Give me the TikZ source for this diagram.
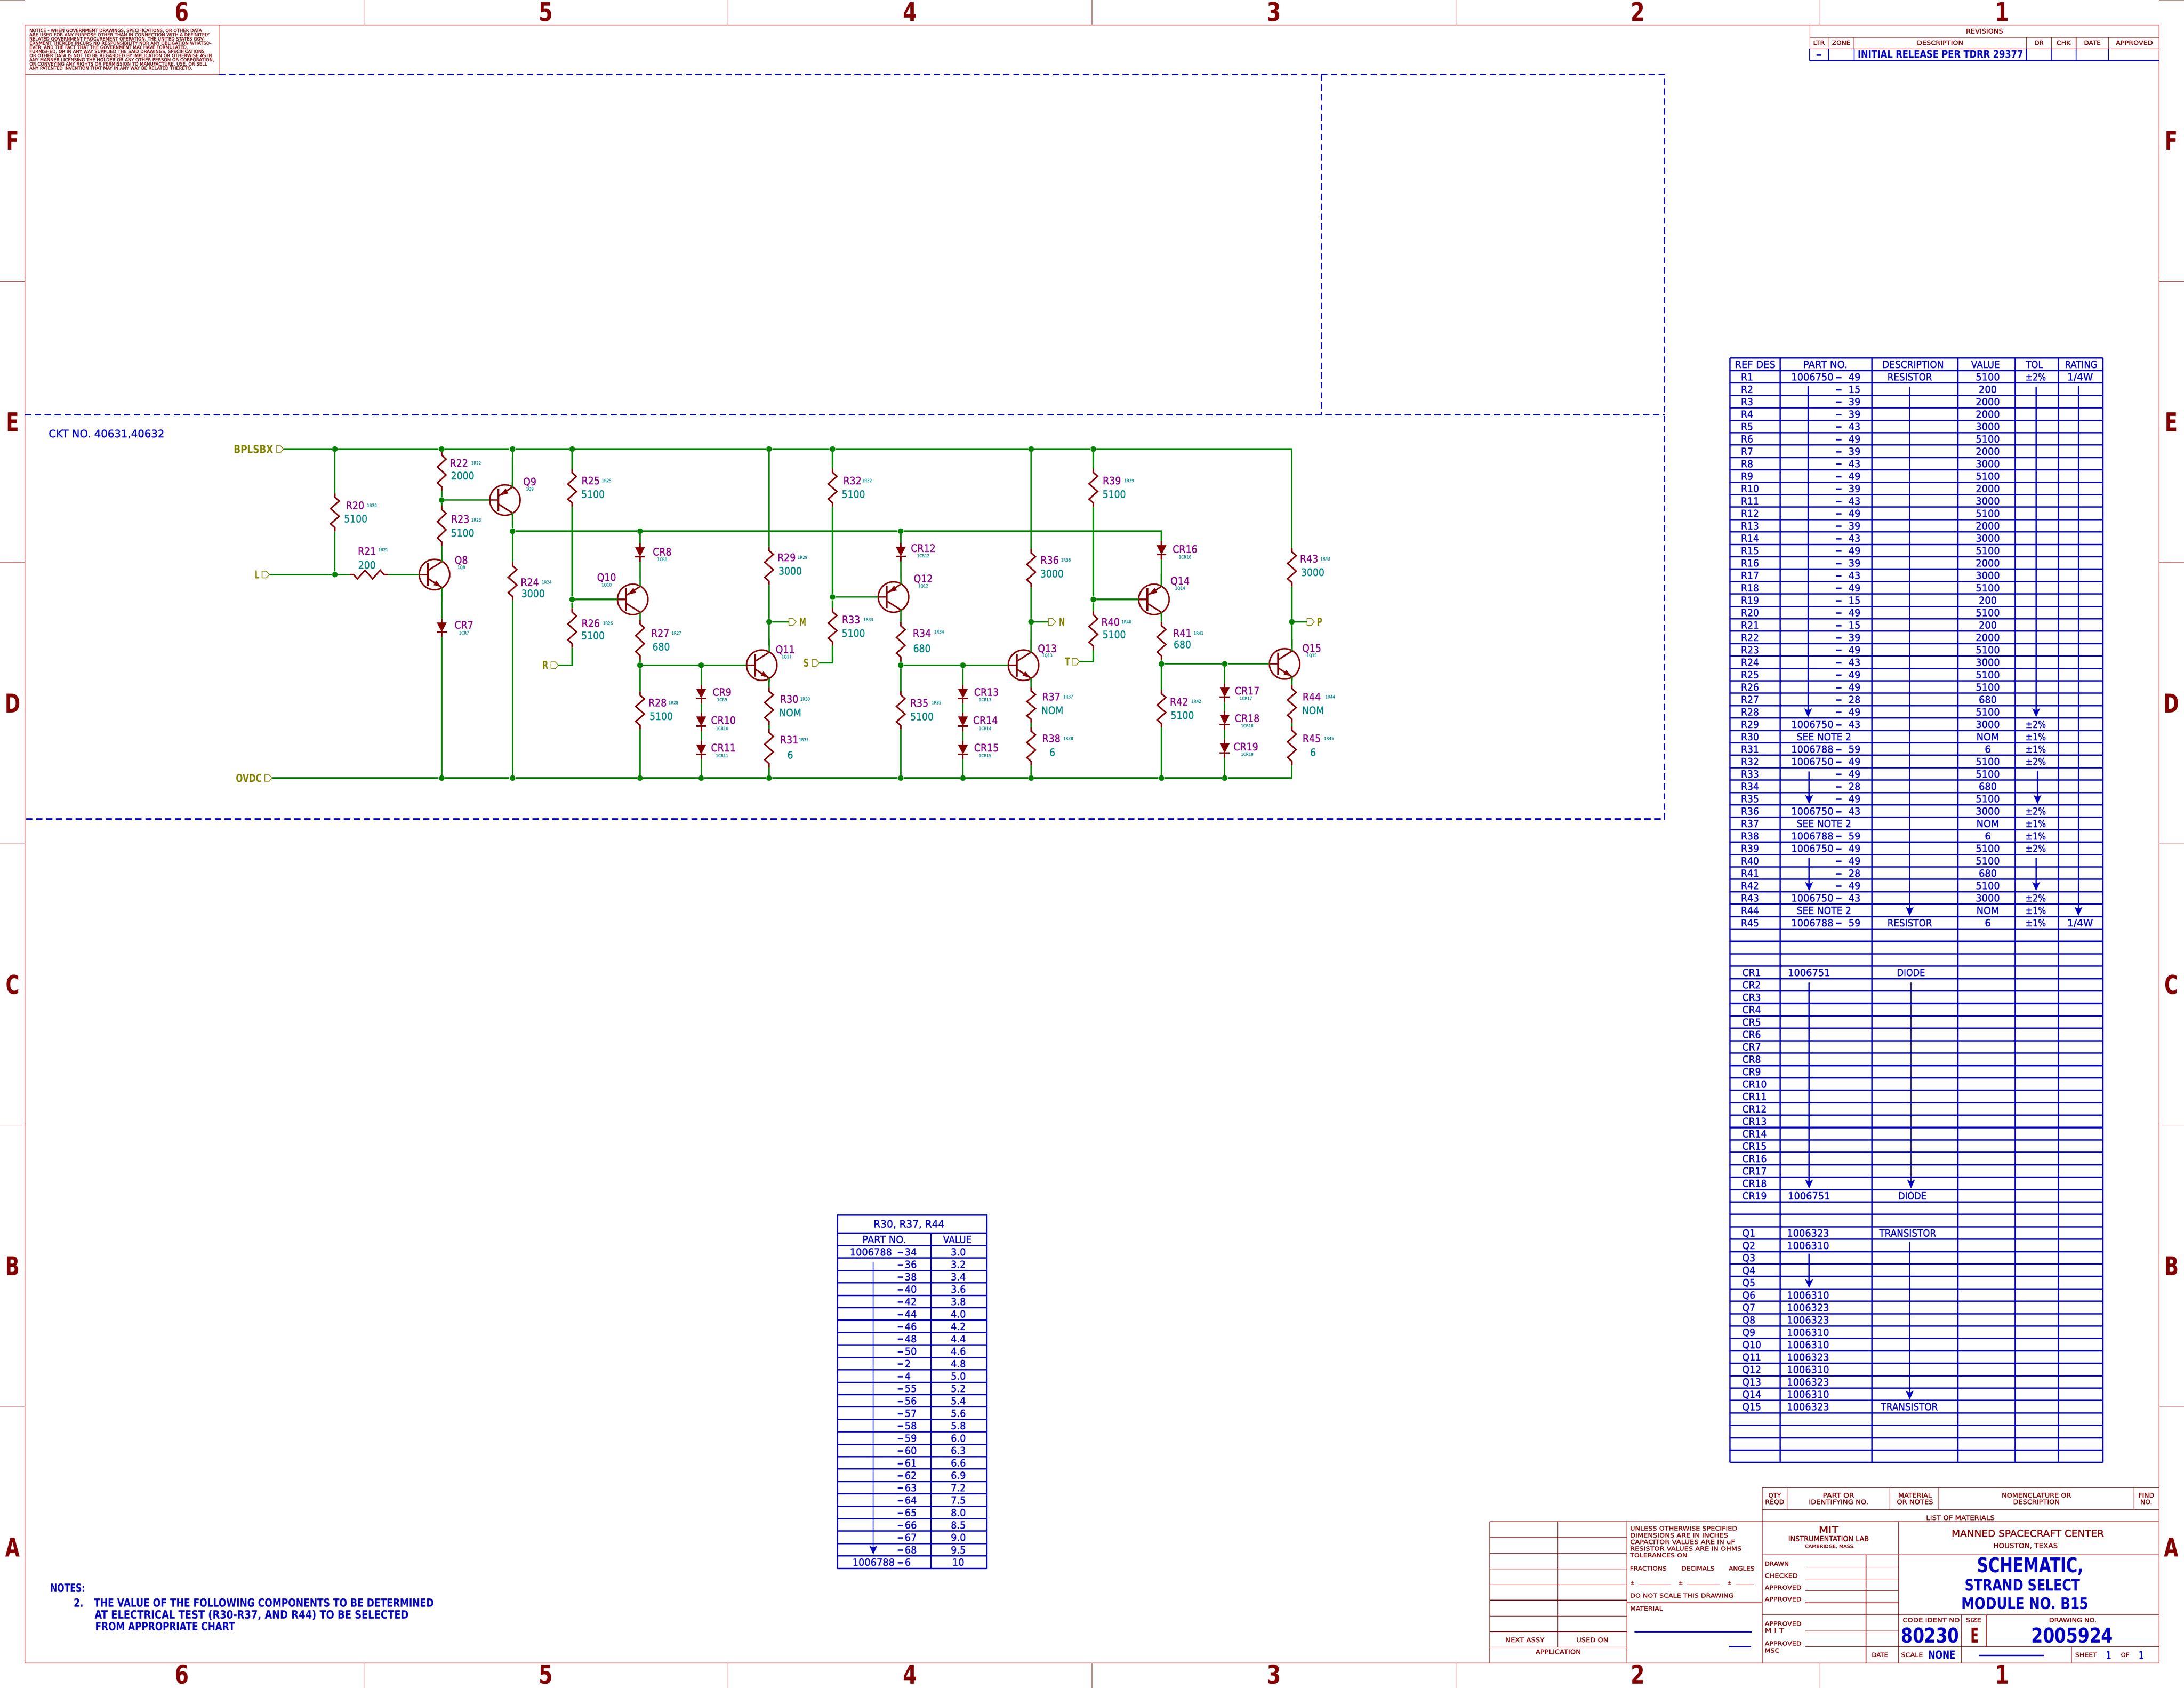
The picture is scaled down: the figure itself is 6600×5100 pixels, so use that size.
\documentclass[tikz,border=0pt]{standalone}
\usepackage{graphicx}
\usepackage{fontspec}
\setmainfont{DejaVu Sans}[UprightFeatures={FakeBold=1.3},BoldFont={DejaVu Sans Bold}]
\definecolor{wg}{RGB}{0,132,0}
\definecolor{mr}{RGB}{132,0,0}
\definecolor{pu}{RGB}{132,0,132}
\definecolor{te}{RGB}{0,132,132}
\definecolor{ol}{RGB}{132,132,0}
\definecolor{bl}{RGB}{0,0,194}
\definecolor{fr}{RGB}{190,115,115}
\tikzset{
 wire/.style={draw=wg,line width=1.1pt},
 comp/.style={draw=mr,line width=1.1pt},
 junc/.style={circle,fill=wg,inner sep=0pt,minimum size=4.25pt},
 txt/.style={inner sep=0pt,outer sep=0pt},
 gridb/.style={draw=bl,line width=1pt},
 arrb/.style={draw=bl,line width=.8pt},
 dsh/.style={draw=bl,line width=1.1pt,dash pattern=on 4.75pt off 2.75pt},
 frm/.style={draw=fr,line width=.65pt},
 tick/.style={draw=fr,line width=.4pt},
 ml/.style={draw=mr,line width=.4pt},
 flg/.style={draw=ol,line width=.5pt},
}
\newsavebox\tbx
\newcounter{tn}
\newcommand\TTx[7]{\stepcounter{tn}%
 \pgfmathsetmacro\fsz{#5*0.343}%
 \pgfmathsetmacro\yb{#3+#5/2}%
 \node[txt,anchor=#1,text=#4,font=\fontsize{\fsz pt}{\fsz pt}\selectfont] (t\arabic{tn}) at (#2,\yb) {\scalebox{#6}[1]{#7}};}
\newcommand\Tx[7][base]{\TTx{#1}{#2}{#3}{#4}{#5}{#6}{#7}}
\newcommand\Wx[7][base]{\stepcounter{tn}%
 \pgfmathsetmacro\fsz{#5*0.343}%
 \pgfmathsetmacro\yb{#3+#5/2}%
 \node[txt,anchor=#1,text=#4,font=\fontsize{\fsz pt}{\fsz pt}\selectfont] (t\arabic{tn}) at (#2,\yb) {\sbox\tbx{#7}\pgfmathsetmacro\xsc{#6*0.25/\the\wd\tbx}\scalebox{\xsc}[1]{\usebox\tbx}};}
\newcommand\RL[3]{\Tx{#1}{#2}{pu}{23}{.89}{#3}}
\newcommand\SL[3]{\Tx{#1}{#2}{te}{10}{.83}{#3}}
\newcommand\VL[3]{\Tx{#1}{#2}{te}{23}{.88}{#3}}
\newcommand\Jn[3]{\node[junc] (#1) at (#2,#3) {};}
\newcommand\Rv[4]{\pgfmathsetmacro\hh{#4-#3}%
 \coordinate (#1a) at (#2,#3); \coordinate (#1b) at (#2,#4);
 \draw[comp] (#1a) -- ++(0,0.1*\hh) -- ++(13,0.1*\hh) -- ++(-26,0.2*\hh) -- ++(26,0.2*\hh) -- ++(-26,0.2*\hh) -- ++(13,0.1*\hh) -- (#1b);}
\newcommand\Rh[4]{\pgfmathsetmacro\hh{#3-#2}%
 \coordinate (#1a) at (#2,#4); \coordinate (#1b) at (#3,#4);
 \draw[comp] (#1a) -- ++(0.1*\hh,0) -- ++(0.1*\hh,13) -- ++(0.2*\hh,-26) -- ++(0.2*\hh,26) -- ++(0.2*\hh,-26) -- ++(0.1*\hh,13) -- (#1b);}
\newcommand\Dd[3]{\coordinate (#1a) at (#2,#3); \coordinate (#1b) at (#2,#3+55);
 \draw[comp] (#1a) -- (#2,#3+12);
 \fill[mr] (#2-15,#3+11) -- (#2+15,#3+11) -- (#2,#3+40) -- cycle;
 \draw[comp] (#2-15,#3+40) -- (#2+15,#3+40);
 \draw[comp] (#2,#3+40) -- (#1b);}
\newcommand\Qb[3]{\coordinate (#1b) at (#2-46,#3);
 \coordinate (#1t) at (#2+22.5,#3-39); \coordinate (#1u) at (#2+22.5,#3+39);
 \draw[comp] (#2,#3) circle[radius=46];
 \draw[comp] (#1b) -- (#2-20,#3);
 \draw[draw=mr,line width=1.4pt] (#2-20,#3-34) -- (#2-20,#3+34);
 \draw[comp] (#2-20,#3-12) -- (#1t);
 \draw[comp] (#2-20,#3+12) -- (#1u);}
\newcommand\Qn[3]{\Qb{#1}{#2}{#3}\fill[mr] (#2+20,#3+37) -- (#2-3,#3+32) -- (#2+5,#3+18) -- cycle;}
\newcommand\Qp[3]{\Qb{#1}{#2}{#3}\fill[mr] (#2-15,#3-14) -- (#2+10,#3-20) -- (#2+2,#3-35) -- cycle;}
\newcommand\Fg[3]{\coordinate (#1l) at (#2,#3); \coordinate (#1r) at (#2+22,#3);
 \draw[flg] (#1l) -- (#2,#3-10) -- (#2+13,#3-10) -- (#1r) -- (#2+13,#3+10) -- (#2,#3+10) -- cycle;}
\newcommand\Ar[3]{\draw[arrb] (#1,#2) -- (#1,#3-20);
 \fill[bl] (#1-12,#3-27) .. controls (#1,#3-20) .. (#1+12,#3-27) -- (#1,#3) -- cycle;}
\begin{document}
\begin{tikzpicture}[x=0.25pt,y=-0.25pt]
\useasboundingbox (0,0) rectangle (6600,5100);
% ---------- frame
\draw[frm] (75,75) rectangle (6525,5025);
\foreach \v in {1100,2200,3300,4400,5500}{\draw[tick] (\v,0) -- (\v,75); \draw[tick] (\v,5025) -- (\v,5100);}
\foreach \v in {850,1700,2550,3400,4250}{\draw[tick] (0,\v) -- (75,\v); \draw[tick] (6525,\v) -- (6600,\v);}
\draw[tick] (0,1) -- (75,1); \draw[tick] (6525,1) -- (6600,1);
\foreach \n/\v in {6/550,5/1650,4/2750,3/3850,2/4950,1/6050}{
 \Tx{\v}{36}{mr}{57}{.78}{\bfseries \n}
 \Tx{\v}{5060}{mr}{57}{.78}{\bfseries \n}}
\foreach \n/\v in {F/425,E/1275,D/2125,C/2975,B/3825,A/4675}{
 \Tx{38}{\v}{mr}{57}{.72}{\bfseries \n}
 \Tx{6562}{\v}{mr}{57}{.72}{\bfseries \n}}
% ---------- dashed zones
\draw[dsh] (662,225) -- (5030,225) -- (5030,2475) -- (75,2475);
\draw[dsh] (75,1253) -- (5030,1253);
\draw[dsh] (3994,225) -- (3994,1253);
% ---------- notice
\draw[frm] (75,225) -- (662,225);
\draw[ml] (662,75) -- (662,225);
\foreach \s/\w/\y in {NOTICE - WHEN GOVERNMENT DRAWINGS{,} SPECIFICATIONS{,} OR OTHER DATA/521/92,
 ARE USED FOR ANY PURPOSE OTHER THAN IN CONNECTION WITH A DEFINITELY/544/104.7,
 RELATED GOVERNMENT PROCUREMENT OPERATION{,} THE UNITED STATES GOV-/530/117.3,
 ERNMENT THEREBY INCURS NO RESPONSIBILITY NOR ANY OBLIGATION WHATSO-/550/130,
 EVER; AND THE FACT THAT THE GOVERNMENT MAY HAVE FORMULATED{,}/479/142.7,
 FURNISHED{,} OR IN ANY WAY SUPPLIED THE SAID DRAWINGS{,} SPECIFICATIONS/529/155,
 OR OTHER DATA IS NOT TO BE REGARDED BY IMPLICATION OR OTHERWISE AS IN/552/167.7,
 ANY MANNER LICENSING THE HOLDER OR ANY OTHER PERSON OR CORPORATION{,}/558/180.3,
 OR CONVEYING ANY RIGHTS OR PERMISSION TO MANUFACTURE{,} USE{,} OR SELL/537/193,
 ANY PATENTED INVENTION THAT MAY IN ANY WAY BE RELATED THERETO./492/205.7}{
 \Wx[base west]{89}{\y}{mr}{10}{\w}{\s}}
% ---------- revisions
\draw[ml] (5469,75) -- (5469,183) (5469,113) -- (6525,113) (5469,147) -- (6525,147);
\foreach \v in {5525,5603,6124,6199,6274,6372}{\draw[ml] (\v,113) -- (\v,147);}
\foreach \v in {5469,5525,5603,6124,6199,6274,6372}{\draw[draw=bl,line width=.7pt] (\v,147) -- (\v,183);}
\draw[gridb] (5469,183) -- (6525,183);
\Wx{5997}{94}{mr}{14}{112}{REVISIONS}
\Wx{5497}{129}{mr}{13.5}{35}{LTR}
\Wx{5564}{129}{mr}{13.5}{56}{ZONE}
\Wx{5863}{129}{mr}{13.5}{140}{DESCRIPTION}
\Wx{6162}{129}{mr}{13.5}{27}{DR}
\Wx{6236}{129}{mr}{13.5}{43}{CHK}
\Wx{6323}{129}{mr}{13.5}{50}{DATE}
\Wx{6450}{129}{mr}{13.5}{112}{APPROVED}
\Wx{5497}{165}{bl}{23}{20}{\bfseries -}
\Wx{5864}{164}{bl}{23}{500}{\bfseries INITIAL RELEASE PER TDRR 29377}
% ---------- circuit: junctions
\foreach \n/\x in {jT1/1012,jT2/1335,jT3/1549,jT4/1729,jT5/2324,jT6/2516,jT7/3116,jT8/3304}{\Jn{\n}{\x}{1357}}
\foreach \n/\x in {jB1/1335,jB2/1549,jB3/1934,jB4/2119,jB5/2324,jB6/2722,jB7/2910,jB8/3116,jB9/3510,jB10/3701}{\Jn{\n}{\x}{2351}}
\Jn{jL}{1012}{1736}
\Jn{j22}{1335}{1511}
\Jn{j24}{1549}{1605}
\Jn{j8}{1934}{1605}
\Jn{j12}{2722}{1605}
\Jn{j26}{1729}{1811}
\Jn{j28}{1934}{2010}
\Jn{j9}{2119}{2010}
\Jn{jM}{2324}{1879}
\Jn{j33}{2516}{1804}
\Jn{j35}{2722}{2010}
\Jn{j13}{2910}{2010}
\Jn{jN}{3116}{1879}
\Jn{j40}{3304}{1811}
\Jn{j42}{3510}{2006}
\Jn{j17}{3701}{2006}
\Jn{jP}{3904}{1879}
\coordinate (cTR) at (3904,1357);
\coordinate (cBR) at (3904,2351);
\coordinate (c16) at (3510,1605);
\coordinate (cR) at (1729,2010);
\coordinate (cS) at (2516,2003);
\coordinate (cT) at (3304,1999);
% ---------- flags
\Fg{fB}{835}{1357}
\Fg{fL}{792}{1736}
\Fg{fO}{800}{2351}
\Fg{fR}{1665}{2010}
\Fg{fS}{2454}{2003}
\Fg{fT}{3240}{1999}
\Fg{fM}{2384}{1879}
\Fg{fN}{3168}{1879}
\Fg{fP}{3950}{1879}
\Wx{766}{1357}{ol}{24}{119}{\bfseries BPLSBX}
\Wx{752}{2351}{ol}{24}{78}{\bfseries OVDC}
\Wx{777}{1736}{ol}{24}{14}{\bfseries L}
\Wx{1648}{2010}{ol}{24}{18}{\bfseries R}
\Wx{2436}{2003}{ol}{24}{16}{\bfseries S}
\Wx{3226}{1999}{ol}{24}{16}{\bfseries T}
\Wx{2426}{1879}{ol}{24}{21}{\bfseries M}
\Wx{3209}{1879}{ol}{24}{18}{\bfseries N}
\Wx{3988}{1879}{ol}{24}{16}{\bfseries P}
% ---------- resistors
\Rv{R20}{1012}{1491}{1606}
\Rh{R21}{1057}{1172}{1736}
\Rv{R22}{1335}{1363}{1483}
\Rv{R23}{1335}{1527}{1650}
\Rv{R24}{1549}{1698}{1814}
\Rv{R25}{1729}{1417}{1531}
\Rv{R26}{1729}{1838}{1957}
\Rv{R27}{1934}{1873}{1993}
\Rv{R28}{1934}{2089}{2203}
\Rv{R29}{2324}{1652}{1768}
\Rv{R30}{2324}{2077}{2191}
\Rv{R31}{2324}{2202}{2319}
\Rv{R32}{2516}{1416}{1531}
\Rv{R33}{2516}{1837}{1951}
\Rv{R34}{2722}{1879}{1997}
\Rv{R35}{2722}{2088}{2204}
\Rv{R36}{3116}{1659}{1775}
\Rv{R37}{3116}{2077}{2184}
\Rv{R38}{3116}{2198}{2312}
\Rv{R39}{3304}{1416}{1531}
\Rv{R40}{3304}{1846}{1964}
\Rv{R41}{3510}{1879}{1993}
\Rv{R42}{3510}{2085}{2198}
\Rv{R43}{3904}{1656}{1772}
\Rv{R44}{3904}{2069}{2184}
\Rv{R45}{3904}{2195}{2312}
% ---------- diodes
\Dd{CR7}{1335}{1870}
\Dd{CR8}{1934}{1642}
\Dd{CR9}{2119}{2070}
\Dd{CR10}{2119}{2154}
\Dd{CR11}{2119}{2239}
\Dd{CR12}{2722}{1641}
\Dd{CR13}{2910}{2070}
\Dd{CR14}{2910}{2154}
\Dd{CR15}{2910}{2239}
\Dd{CR16}{3510}{1636}
\Dd{CR17}{3701}{2066}
\Dd{CR18}{3701}{2149}
\Dd{CR19}{3701}{2235}
% ---------- transistors
\Qn{Q8}{1313}{1736}
\Qp{Q9}{1526}{1511}
\Qp{Q10}{1912}{1811}
\Qn{Q11}{2302}{2010}
\Qp{Q12}{2700}{1804}
\Qn{Q13}{3093}{2010}
\Qp{Q14}{3487}{1811}
\Qn{Q15}{3882}{2006}
% ---------- wires
\draw[wire] (fBr) -- (jT1) -- (jT2) -- (jT3) -- (jT4) -- (jT5) -- (jT6) -- (jT7) -- (jT8) -- (cTR) -- (R43a);
\draw[wire] (fOr) -- (jB1) -- (jB2) -- (jB3) -- (jB4) -- (jB5) -- (jB6) -- (jB7) -- (jB8) -- (jB9) -- (jB10) -- (cBR) -- (R45b);
\draw[wire] (jT1) -- (R20a) (R20b) -- (jL);
\draw[wire] (fLr) -- (jL) -- (R21a) (R21b) -- (Q8b);
\draw[wire] (jT2) -- (R22a) (R22b) -- (j22) -- (R23a) (R23b) -- (Q8t);
\draw[wire] (j22) -- (Q9b);
\draw[wire] (Q8u) -- (CR7a) (CR7b) -- (jB1);
\draw[wire] (jT3) -- (Q9t) (Q9u) -- (j24) -- (R24a) (R24b) -- (jB2);
\draw[wire] (j24) -- (j8) -- (j12) -- (c16) -- (CR16a);
\draw[wire] (jT4) -- (R25a) (R25b) -- (j26) -- (R26a) (R26b) -- (cR) -- (fRr);
\draw[wire] (j26) -- (Q10b);
\draw[wire] (j8) -- (CR8a) (CR8b) -- (Q10t) (Q10u) -- (R27a) (R27b) -- (j28) -- (R28a) (R28b) -- (jB3);
\draw[wire] (j28) -- (j9) -- (Q11b);
\draw[wire] (j9) -- (CR9a) (CR9b) -- (CR10a) (CR10b) -- (CR11a) (CR11b) -- (jB4);
\draw[wire] (jT5) -- (R29a) (R29b) -- (jM) -- (Q11t) (jM) -- (fMl);
\draw[wire] (Q11u) -- (R30a) (R30b) -- (R31a) (R31b) -- (jB5);
\draw[wire] (jT6) -- (R32a) (R32b) -- (j33) -- (R33a) (R33b) -- (cS) -- (fSr);
\draw[wire] (j33) -- (Q12b);
\draw[wire] (j12) -- (CR12a) (CR12b) -- (Q12t) (Q12u) -- (R34a) (R34b) -- (j35) -- (R35a) (R35b) -- (jB6);
\draw[wire] (j35) -- (j13) -- (Q13b);
\draw[wire] (j13) -- (CR13a) (CR13b) -- (CR14a) (CR14b) -- (CR15a) (CR15b) -- (jB7);
\draw[wire] (jT7) -- (R36a) (R36b) -- (jN) -- (Q13t) (jN) -- (fNl);
\draw[wire] (Q13u) -- (R37a) (R37b) -- (R38a) (R38b) -- (jB8);
\draw[wire] (jT8) -- (R39a) (R39b) -- (j40) -- (R40a) (R40b) -- (cT) -- (fTr);
\draw[wire] (j40) -- (Q14b);
\draw[wire] (CR16b) -- (Q14t) (Q14u) -- (R41a) (R41b) -- (j42) -- (R42a) (R42b) -- (jB9);
\draw[wire] (j42) -- (j17) -- (Q15b);
\draw[wire] (j17) -- (CR17a) (CR17b) -- (CR18a) (CR18b) -- (CR19a) (CR19b) -- (jB10);
\draw[wire] (R43b) -- (jP) -- (Q15t) (jP) -- (fPl);
\draw[wire] (Q15u) -- (R44a) (R44b) -- (R45a);
% ---------- circuit labels
\RL{1073}{1527}{R20}\SL{1124}{1527}{1R20}\VL{1075}{1567}{5100}
\RL{1109}{1665}{R21}\SL{1158}{1661}{1R21}\VL{1109}{1707}{200}
\RL{1387}{1399}{R22}\SL{1439}{1399}{1R22}\VL{1398}{1437}{2000}
\RL{1391}{1568}{R23}\SL{1439}{1571}{1R23}\VL{1398}{1610}{5100}
\RL{1394}{1692}{Q8}\SL{1394}{1714}{1Q8}
\RL{1402}{1888}{CR7}\SL{1402}{1912}{1CR7}
\RL{1601}{1455}{Q9}\SL{1601}{1477}{1Q9}
\RL{1601}{1759}{R24}\SL{1652}{1759}{1R24}\VL{1611}{1793}{3000}
\RL{1785}{1452}{R25}\SL{1833}{1452}{1R25}\VL{1792}{1493}{5100}
\RL{1833}{1744}{Q10}\SL{1833}{1767}{1Q10}
\RL{2001}{1667}{CR8}\SL{2001}{1690}{1CR8}
\RL{1785}{1883}{R26}\SL{1837}{1883}{1R26}\VL{1792}{1920}{5100}
\RL{1995}{1913}{R27}\SL{2044}{1913}{1R27}\VL{1998}{1954}{680}
\RL{1987}{2123}{R28}\SL{2035}{2123}{1R28}\VL{1998}{2164}{5100}
\RL{2373}{1962}{Q11}\SL{2377}{1984}{1Q11}
\RL{2182}{2091}{CR9}\SL{2182}{2114}{1CR9}
\RL{2186}{2176}{CR10}\SL{2182}{2201}{1CR10}
\RL{2186}{2259}{CR11}\SL{2182}{2283}{1CR11}
\RL{2377}{1684}{R29}\SL{2425}{1684}{1R29}\VL{2388}{1725}{3000}
\RL{2385}{2112}{R30}\SL{2433}{2112}{1R30}\VL{2388}{2153}{NOM}
\RL{2385}{2235}{R31}\SL{2429}{2235}{1R31}\VL{2388}{2281}{6}
\RL{2576}{1452}{R32}\SL{2620}{1452}{1R32}\VL{2579}{1493}{5100}
\RL{2572}{1872}{R33}\SL{2624}{1872}{1R33}\VL{2579}{1913}{5100}
\RL{2790}{1656}{CR12}\SL{2790}{1679}{1CR12}
\RL{2790}{1748}{Q12}\SL{2790}{1770}{1Q12}
\RL{2786}{1913}{R34}\SL{2838}{1909}{1R34}\VL{2786}{1959}{680}
\RL{2778}{2124}{R35}\SL{2830}{2123}{1R35}\VL{2786}{2165}{5100}
\RL{2981}{2091}{CR13}\SL{2977}{2114}{1CR13}
\RL{2978}{2176}{CR14}\SL{2977}{2201}{1CR14}
\RL{2981}{2259}{CR15}\SL{2977}{2283}{1CR15}
\RL{3165}{1959}{Q13}\SL{3165}{1980}{1Q13}
\RL{3172}{1692}{R36}\SL{3221}{1692}{1R36}\VL{3179}{1733}{3000}
\RL{3177}{2105}{R37}\SL{3228}{2105}{1R37}\VL{3180}{2146}{NOM}
\RL{3177}{2231}{R38}\SL{3228}{2231}{1R38}\VL{3180}{2273}{6}
\RL{3360}{1452}{R39}\SL{3412}{1452}{1R39}\VL{3367}{1493}{5100}
\RL{3356}{1879}{R40}\SL{3404}{1879}{1R40}\VL{3367}{1917}{5100}
\RL{3581}{1659}{CR16}\SL{3581}{1683}{1CR16}
\RL{3566}{1755}{Q14}\SL{3566}{1777}{1Q14}
\RL{3573}{1913}{R41}\SL{3622}{1913}{1R41}\VL{3573}{1947}{680}
\RL{3563}{2120}{R42}\SL{3615}{2119}{1R42}\VL{3573}{2161}{5100}
\RL{3769}{2087}{CR17}\SL{3765}{2110}{1CR17}
\RL{3769}{2170}{CR18}\SL{3769}{2193}{1CR18}
\RL{3765}{2256}{CR19}\SL{3769}{2279}{1CR19}
\RL{3956}{1688}{R43}\SL{4005}{1688}{1R43}\VL{3967}{1729}{3000}
\RL{3964}{1958}{Q15}\SL{3964}{1980}{1Q15}
\RL{3964}{2105}{R44}\SL{4020}{2105}{1R44}\VL{3968}{2146}{NOM}
\RL{3964}{2231}{R45}\SL{4016}{2231}{1R45}\VL{3968}{2273}{6}
\Wx[base west]{147}{1310}{bl}{23}{350}{CKT NO. 40631,40632}
% ---------- notes
\Wx[base west]{152}{4798}{bl}{25}{105}{\bfseries NOTES:}
\Wx[base west]{223}{4843}{bl}{25}{29}{\bfseries 2.}
\Wx[base west]{284}{4843}{bl}{25}{1027}{\bfseries THE VALUE OF THE FOLLOWING COMPONENTS TO BE DETERMINED}
\Wx[base west]{286}{4879}{bl}{25}{949}{\bfseries AT ELECTRICAL TEST (R30-R37, AND R44) TO BE SELECTED}
\Wx[base west]{288}{4914}{bl}{25}{422}{\bfseries FROM APPROPRIATE CHART}
% ---------- BOM table
\foreach \k in {0,...,88}{\pgfmathsetmacro\yy{1120+37.49*\k}\draw[gridb] (5228,\yy) -- (6355,\yy);}
\draw[gridb] (5228,1082) -- (6355,1082);
\foreach \v in {5228,5380,5657,5917,6090,6220,6355}{\draw[gridb] (\v,1082) -- (\v,4419);}
\Wx{5304}{1101}{bl}{22}{123}{REF DES}
\Wx{5516}{1101}{bl}{22}{134}{PART NO.}
\Wx{5781}{1101}{bl}{22}{186}{DESCRIPTION}
\Wx{6000}{1101}{bl}{22}{87}{VALUE}
\Wx{6148}{1101}{bl}{22}{52}{TOL}
\Wx{6289}{1101}{bl}{22}{98}{RATING}
\def\nnone{x}
\foreach \r/\n/\v [count=\k from 0] in {R1/49/5100,R2/15/200,R3/39/2000,R4/39/2000,R5/43/3000,R6/49/5100,R7/39/2000,R8/43/3000,R9/49/5100,R10/39/2000,R11/43/3000,R12/49/5100,R13/39/2000,R14/43/3000,R15/49/5100,R16/39/2000,R17/43/3000,R18/49/5100,R19/15/200,R20/49/5100,R21/15/200,R22/39/2000,R23/49/5100,R24/43/3000,R25/49/5100,R26/49/5100,R27/28/680,R28/49/5100,R29/43/3000,R30/x/NOM,R31/59/6,R32/49/5100,R33/49/5100,R34/28/680,R35/49/5100,R36/43/3000,R37/x/NOM,R38/59/6,R39/49/5100,R40/49/5100,R41/28/680,R42/49/5100,R43/43/3000,R44/x/NOM,R45/59/6}{
 \pgfmathsetmacro\yy{1120+37.49*(\k+.5)}
 \Tx[base west]{5261}{\yy}{bl}{22}{.92}{\r}
 \ifx\n\nnone\else
  \Tx{5557}{\yy}{bl}{22}{1.7}{\bfseries -}
  \Tx[base west]{5586}{\yy}{bl}{22}{.95}{\n}
 \fi
 \Tx{6007}{\yy}{bl}{22}{.95}{\v}
}
\foreach \k/\p in {0/1006750,28/1006750,30/1006788,31/1006750,35/1006750,37/1006788,38/1006750,42/1006750,44/1006788}{
 \pgfmathsetmacro\yy{1120+37.49*(\k+.5)}
 \Tx[base west]{5413}{\yy}{bl}{22}{.95}{\p}}
\foreach \k in {29,36,43}{
 \pgfmathsetmacro\yy{1120+37.49*(\k+.5)}
 \Wx{5512}{\yy}{bl}{22}{165}{SEE NOTE 2}}
\foreach \k/\p in {0/2,28/2,29/1,30/1,31/2,35/2,36/1,37/1,38/2,42/2,43/1,44/1}{
 \pgfmathsetmacro\yy{1120+37.49*(\k+.5)}
 \Wx{6152}{\yy}{bl}{22}{62}{±\p\%}}
\foreach \k in {0,44}{
 \pgfmathsetmacro\yy{1120+37.49*(\k+.5)}
 \Wx{5771}{\yy}{bl}{22}{135}{RESISTOR}
 \Wx{6286}{\yy}{bl}{22}{78}{1/4W}}
\foreach \r [count=\k from 48] in {CR1,CR2,CR3,CR4,CR5,CR6,CR7,CR8,CR9,CR10,CR11,CR12,CR13,CR14,CR15,CR16,CR17,CR18,CR19}{
 \pgfmathsetmacro\yy{1120+37.49*(\k+.5)}
 \Tx[base west]{5265}{\yy}{bl}{22}{.92}{\r}}
\foreach \k/\x in {48/5775,66/5779}{
 \pgfmathsetmacro\yy{1120+37.49*(\k+.5)}
 \Wx{\x}{\yy}{bl}{22}{85}{DIODE}
 \Tx{5467}{\yy}{bl}{22}{.95}{1006751}}
\foreach \r/\p [count=\k from 69] in {Q1/1006323,Q2/1006310,Q3/x,Q4/x,Q5/x,Q6/1006310,Q7/1006323,Q8/1006323,Q9/1006310,Q10/1006310,Q11/1006323,Q12/1006310,Q13/1006323,Q14/1006310,Q15/1006323}{
 \pgfmathsetmacro\yy{1120+37.49*(\k+.5)}
 \Tx[base west]{5265}{\yy}{bl}{22}{.92}{\r}
 \ifx\p\nnone\else\Tx{5464}{\yy}{bl}{22}{.95}{\p}\fi}
\Wx{5765}{3725.6}{bl}{22}{172}{TRANSISTOR}
\Wx{5770}{4250.5}{bl}{22}{172}{TRANSISTOR}
\Ar{5464}{1165}{2167}
\Ar{6153}{1168}{2167}
\Ar{5467}{2331}{2429}
\Ar{6157}{2328}{2429}
\Ar{5467}{2591}{2692}
\Ar{6153}{2593}{2692}
\Ar{5771}{1168}{2767}
\Ar{6281}{1165}{2767}
\Ar{5467}{2968}{3591}
\Ar{5775}{2968}{3591}
\Ar{5467}{3788}{3892}
\Ar{5771}{3751}{4229}
% ---------- values table
\draw[gridb] (2531,3671) rectangle (2982,4739);
\draw[gridb] (2531,3726) -- (2982,3726);
\foreach \k in {0,...,25}{\pgfmathsetmacro\yy{3764+37.5*\k}\draw[gridb] (2531,\yy) -- (2982,\yy);}
\draw[gridb] (2814,3726) -- (2814,4739);
\Wx{2747}{3698}{bl}{22}{214}{R30, R37, R44}
\Wx{2672}{3745}{bl}{22}{132}{PART NO.}
\Wx{2893}{3745}{bl}{22}{86}{VALUE}
\foreach \n/\v [count=\k from 0] in {34/3.0,36/3.2,38/3.4,40/3.6,42/3.8,44/4.0,46/4.2,48/4.4,50/4.6,2/4.8,4/5.0,55/5.2,56/5.4,57/5.6,58/5.8,59/6.0,60/6.3,61/6.6,62/6.9,63/7.2,64/7.5,65/8.0,66/8.5,67/9.0,68/9.5,6/10}{
 \pgfmathsetmacro\yy{3764+37.5*(\k+.5)}
 \Tx{2721}{\yy}{bl}{22}{1.7}{\bfseries -}
 \Tx[base west]{2734}{\yy}{bl}{22}{.95}{\n}
 \Tx{2896}{\yy}{bl}{22}{.95}{\v}}
\Tx[base west]{2568}{3782.75}{bl}{22}{.95}{1006788}
\Tx[base west]{2576}{4720.25}{bl}{22}{.95}{1006788}
\Ar{2639}{3813}{4697}
% ---------- title block lines
\draw[ml] (5325,4495) -- (6525,4495) (5325,4561) -- (6525,4561);
\draw[frm] (4502,4598) -- (6525,4598);
\draw[ml] (5325,4495) -- (5325,5025);
\foreach \v in {5401,5711,5859,6449}{\draw[ml] (\v,4495) -- (\v,4561);}
\draw[ml] (4502,4598) -- (4502,5025) (4916,4598) -- (4916,5025) (4708,4598) -- (4708,4977);
\foreach \v in {4646,4693,4741,4788,4835,4883,4930,4977}{\draw[ml] (4502,\v) -- (4916,\v);}
\draw[ml] (5737,4598) -- (5737,5025);
\draw[frm] (5325,4698) -- (6525,4698);
\draw[ml] (5639,4698) -- (5639,5025);
\foreach \v in {4735,4771,4807,4843}{\draw[ml] (5455,\v) -- (5737,\v);}
\draw[ml] (4916,4843) -- (5325,4843);
\draw[ml] (5325,4879) -- (6525,4879) (5455,4928) -- (5737,4928) (5455,4976) -- (6525,4976);
\draw[ml] (5927,4879) -- (5927,5025) (6002,4879) -- (6002,4976) (6260,4976) -- (6260,5025);
\draw[ml] (4952,4788) -- (5050,4788) (5097,4788) -- (5197,4788) (5245,4788) -- (5301,4788);
\draw[gridb] (4939,4931) -- (5295,4931) (5225,4976) -- (5292,4976) (5981,5002) -- (6177,5002);
% ---------- title block text
\Wx{5363}{4518}{mr}{14}{38}{QTY}\Wx{5363}{4538}{mr}{14}{58}{REQD}
\Wx{5556}{4518}{mr}{14}{95}{PART OR}\Wx{5556}{4538}{mr}{14}{180}{IDENTIFYING NO.}
\Wx{5787}{4518}{mr}{14}{101}{MATERIAL}\Wx{5787}{4538}{mr}{14}{110}{OR NOTES}
\Wx{6154}{4518}{mr}{14}{210}{NOMENCLATURE OR}\Wx{6154}{4538}{mr}{14}{141}{DESCRIPTION}
\Wx{6486}{4518}{mr}{14}{48}{FIND}\Wx{6486}{4538}{mr}{14}{36}{NO.}
\Wx{5924}{4586}{mr}{14}{207}{LIST OF MATERIALS}
\Wx[base west]{4926}{4618}{mr}{13}{324}{UNLESS OTHERWISE SPECIFIED}
\Wx[base west]{4926}{4639}{mr}{13}{296}{DIMENSIONS ARE IN INCHES}
\Wx[base west]{4926}{4659}{mr}{13}{317}{CAPACITOR VALUES ARE IN uF}
\Wx[base west]{4926}{4679}{mr}{13}{337}{RESISTOR VALUES ARE IN OHMS}
\Wx[base west]{4926}{4699}{mr}{13}{173}{TOLERANCES ON}
\Wx{4981}{4739}{mr}{13}{111}{FRACTIONS}
\Wx{5131}{4739}{mr}{13}{100}{DECIMALS}
\Wx{5263}{4739}{mr}{13}{78}{ANGLES}
\Tx{4933}{4782}{mr}{13}{.9}{±}\Tx{5079}{4782}{mr}{13}{.9}{±}\Tx{5226}{4782}{mr}{13}{.9}{±}
\Wx[base west]{4926}{4821}{mr}{13}{313}{DO NOT SCALE THIS DRAWING}
\Wx[base west]{4926}{4860}{mr}{13}{99}{MATERIAL}
\Wx{4608}{4955}{mr}{14}{118}{NEXT ASSY}
\Wx{4812}{4955}{mr}{14}{97}{USED ON}
\Wx{4709}{4991}{mr}{14}{137}{APPLICATION}
\Wx{5526}{4622}{mr}{19.5}{60}{MIT}
\Wx{5526}{4649}{mr}{16}{244}{INSTRUMENTATION LAB}
\Wx{5530}{4672}{mr}{10}{151}{CAMBRIDGE, MASS.}
\Wx{6128}{4633}{mr}{21}{461}{MANNED SPACECRAFT CENTER}
\Wx{6121}{4670}{mr}{15}{195}{HOUSTON,  TEXAS}
\Wx[base west]{5333}{4725}{mr}{13}{73}{DRAWN}
\Wx[base west]{5333}{4761}{mr}{13}{100}{CHECKED}
\Wx[base west]{5333}{4797}{mr}{13}{111}{APPROVED}
\Wx[base west]{5333}{4832}{mr}{13}{111}{APPROVED}
\Wx[base west]{5333}{4906}{mr}{13}{111}{APPROVED}
\Wx[base west]{5333}{4926}{mr}{13}{58}{M I T}
\Wx[base west]{5333}{4966}{mr}{13}{111}{APPROVED}
\Wx[base west]{5333}{4987}{mr}{13}{44}{MSC}
\Wx{5681}{5000}{mr}{13}{49}{DATE}
\Wx{6136}{4729}{bl}{45}{322}{\bfseries SCHEMATIC,}
\Wx{6112}{4789}{bl}{35}{348}{\bfseries STRAND SELECT}
\Wx{6120}{4845}{bl}{35}{384}{\bfseries MODULE NO. B15}
\Wx{5836}{4895}{mr}{13}{173}{CODE IDENT NO}
\Wx{5964}{4895}{mr}{13}{47}{SIZE}
\Wx{6264}{4895}{mr}{13}{144}{DRAWING NO.}
\Wx{5833}{4941}{bl}{45}{175}{\bfseries 80230}
\Wx{5968}{4941}{mr}{45}{25}{\bfseries E}
\Wx{6262}{4941}{bl}{45}{247}{\bfseries 2005924}
\Wx{5778}{5000}{mr}{13}{66}{SCALE}
\Wx{5868}{5000}{bl}{25}{82}{\bfseries NONE}
\Wx{6304}{5000}{mr}{13}{66}{SHEET}
\Wx{6372}{5001}{bl}{25}{16}{\bfseries 1}
\Wx{6422}{5000}{mr}{13}{26}{OF}
\Wx{6471}{5001}{bl}{25}{16}{\bfseries 1}
\end{tikzpicture}
\end{document}
